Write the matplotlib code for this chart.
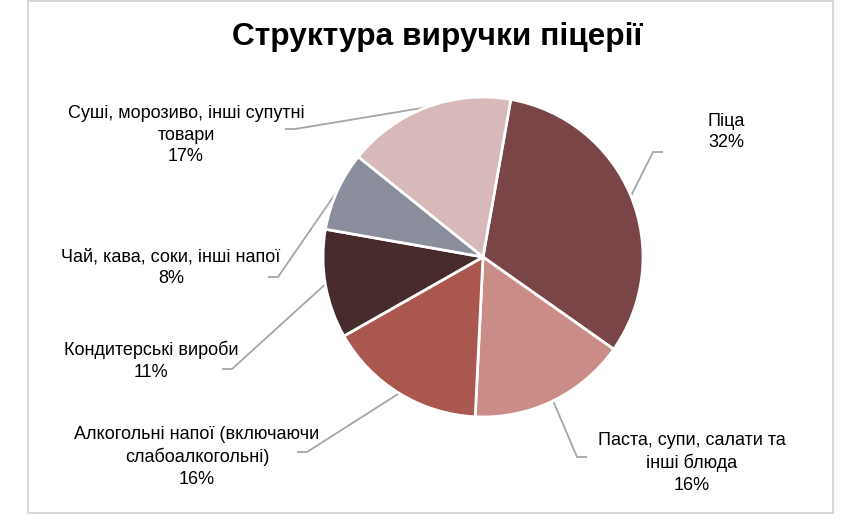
import numpy as np
import matplotlib
matplotlib.use("Agg")
import matplotlib.pyplot as plt
from matplotlib.patches import Rectangle

title = "Структура виручки піцерії"
categories = [
    "Піца",
    "Паста, супи, салати та\nінші блюда",
    "Алкогольні напої (включаючи\nслабоалкогольні)",
    "Кондитерські вироби",
    "Чай, кава, соки, інші напої",
    "Суші, морозиво, інші супутні\nтовари",
]
values = [32, 16, 16, 11, 8, 17]
colors = ["#7A4547", "#C98C87", "#A9574F", "#472A2C", "#8A8D9B", "#D8B9BA"]

W, H = 862, 516
fig = plt.figure(figsize=(W / 100, H / 100), dpi=100)
ax = fig.add_axes([0, 0, 1, 1])

def Y(y):
    return H - y

cx, cy, r = 483, 257, 160
wedges, _ = ax.pie(values, colors=colors, startangle=80, counterclock=False,
                   center=(cx, Y(cy)), radius=r, frame=True,
                   wedgeprops=dict(edgecolor="white", linewidth=2))
ax.set_xlim(0, W)
ax.set_ylim(0, H)
ax.axis("off")

# frame
ax.add_patch(Rectangle((28, Y(513)), 805, 512, fill=False, edgecolor="#D9D9D9", linewidth=1.5))

fam = ["Liberation Sans", "DejaVu Sans"]
ax.text(437, Y(37), title, ha="center", va="center", fontsize=22.8,
        fontweight="bold", family=fam)

# label layout: (text x, block center y, elbow x, elbow y, end x, align)
layout = [
    (708, 132, 653, 152, 663, "left"),
    (692, 463, 577, 457, 587, "center"),
    (197, 457, 307, 452, 297, "center"),
    (151, 361, 232, 369, 222, "center"),
    (171, 268, 278, 277, 268, "center"),
    (186, 135, 295, 129, 285, "center"),
]
for w, cat, v, (tx, ty, ex, ey, endx, al) in zip(wedges, categories, values, layout):
    txt = cat + "\n" + f"{v}%"
    ax.text(tx, Y(ty), txt, ha=al, va="center", fontsize=13,
            family=fam, linespacing=1.37, multialignment=al)
    mid = np.deg2rad((w.theta1 + w.theta2) / 2)
    px, py = cx + r * np.cos(mid), Y(cy) + r * np.sin(mid)
    ax.plot([px, ex, endx], [py, Y(ey), Y(ey)], color="#A6A6A6", linewidth=1.3,
            solid_capstyle="butt", zorder=0.5)

fig.savefig("out.png", dpi=100)
